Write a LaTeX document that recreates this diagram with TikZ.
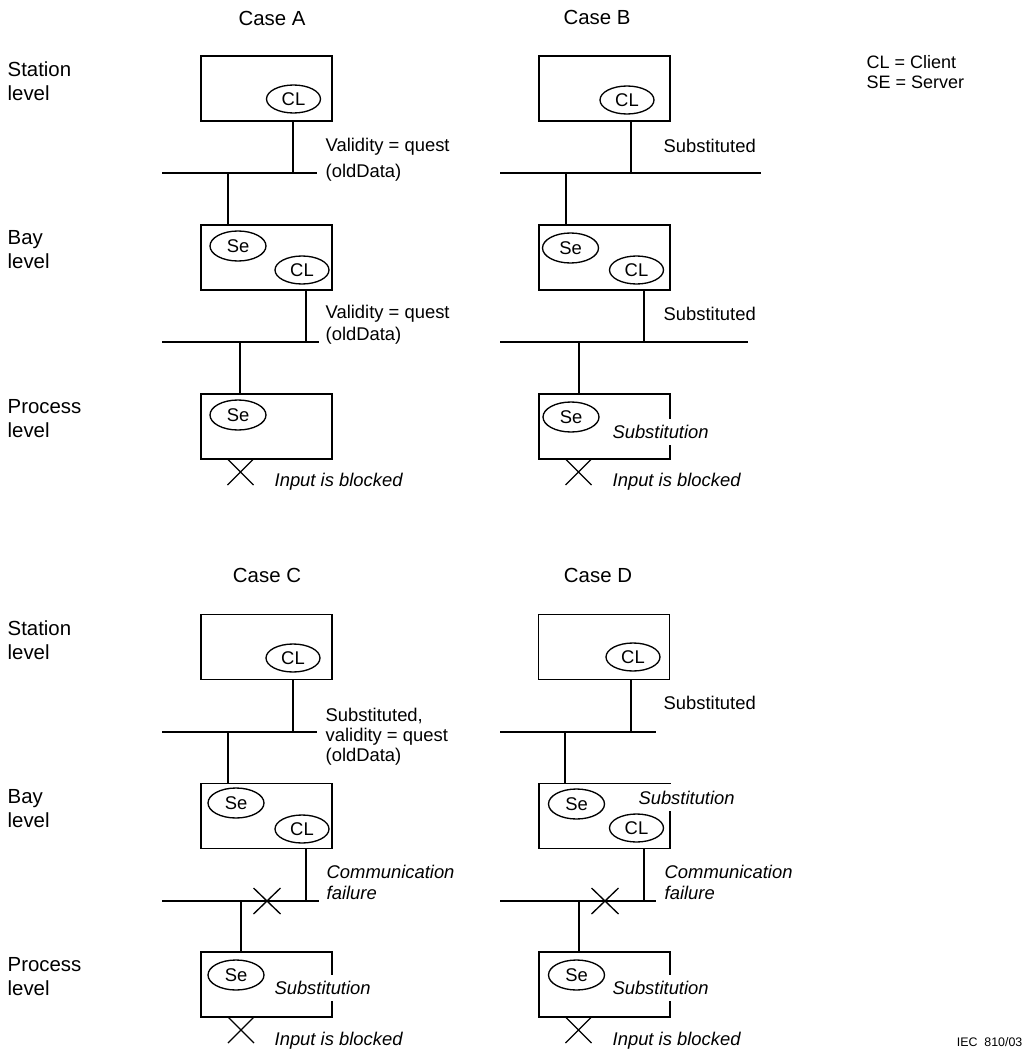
\documentclass[tikz,border=0pt]{standalone}
\usepackage{fontspec}
\setmainfont{Liberation Sans}
\usetikzlibrary{shapes.geometric}
\begin{document}
\begin{tikzpicture}[x=0.75pt,y=-0.75pt, line width=1pt,
  box/.style={draw, rectangle, inner sep=0pt, minimum width=98.25pt, minimum height=48.75pt},
  ell/.style={draw, ellipse, inner sep=0pt, font=\fontsize{13.8}{16}\selectfont},
  se/.style={ell, minimum width=42pt, minimum height=22.5pt},
  cl/.style={ell, minimum width=40.5pt, minimum height=21pt},
  lvl/.style={anchor=west, align=left, inner sep=0pt, font=\fontsize{15.3}{18}\selectfont},
  casetitle/.style={inner sep=0pt, font=\fontsize{15.3}{18}\selectfont},
  ann/.style={anchor=west, align=left, inner sep=0pt, font=\fontsize{13.8}{#1}\selectfont},
  ann/.default=15.75pt,
  annit/.style={anchor=west, align=left, inner sep=0pt, font=\fontsize{13.8}{15.75}\selectfont\itshape},
  subst/.style={anchor=west, fill=white, inner xsep=1pt, inner ysep=5pt, font=\fontsize{13.8}{16}\selectfont\itshape}
]
\useasboundingbox (0,0) rectangle (1035,1052);

% ---------- level labels ----------
\node[lvl] (lvA1) at (7,81) {Station\\level};
\node[lvl] (lvA2) at (7,250) {Bay\\level};
\node[lvl] (lvA3) at (7,418.5) {Process\\level};
\node[lvl] (lvC1) at (7,640) {Station\\level};
\node[lvl] (lvC2) at (7,808.5) {Bay\\level};
\node[lvl] (lvC3) at (7,976.5) {Process\\level};

% ---------- titles ----------
\node[casetitle] (tA) at (272,18) {Case A};
\node[casetitle] (tB) at (597,17) {Case B};
\node[casetitle] (tC) at (267,575) {Case C};
\node[casetitle] (tD) at (598,575) {Case D};

% ---------- legend ----------
\node[anchor=west, align=left, inner sep=0pt, font=\fontsize{13.5}{15}\selectfont] (legend) at (866,72) {CL = Client\\SE = Server};
\node[anchor=east, inner sep=0pt, font=\fontsize{9.3}{11}\selectfont] (iec) at (1023,1042) {IEC\ \ 810/03};

% ================= CASE A =================
\node[box] (As) at (266.5,88.5) {};
\node[cl] (AsCL) at (293.5,99) {CL};
\node[box] (Ab) at (266.5,257.5) {};
\node[se] (AbSe) at (238,246) {Se};
\node[cl] (AbCL) at (302,270) {CL};
\node[box] (Ap) at (266.5,426.5) {};
\node[se] (ApSe) at (238,415) {Se};
\coordinate (A1L) at (162,173); \coordinate (A1R) at (317,173);
\coordinate (A1s) at (293,173); \coordinate (A1b) at (228,173);
\coordinate (A2L) at (162,342); \coordinate (A2R) at (319,342);
\coordinate (A2b) at (306,342); \coordinate (A2p) at (240,342);
\draw (A1L) -- (A1R);
\draw (A2L) -- (A2R);
\draw (As.south -| A1s) -- (A1s);
\draw (A1b) -- (Ab.north -| A1b);
\draw (Ab.south -| A2b) -- (A2b);
\draw (A2p) -- (Ap.north -| A2p);
\coordinate (AX) at (240.5,472);
\draw (AX) +(-13,-13) -- +(13,13) (AX) +(-13,13) -- +(13,-13);
\node[ann=19.5pt] (Aa1) at (325,160) {Validity = quest\\(oldData)};
\node[ann=16.5pt] (Aa2) at (325,324.5) {Validity = quest\\(oldData)};
\node[annit] (Aa3) at (274,482) {Input is blocked};

% ================= CASE B =================
\node[box] (Bs) at (604.5,88.5) {};
\node[cl] (BsCL) at (627,100) {CL};
\node[box] (Bb) at (604.5,257.5) {};
\node[se] (BbSe) at (570.5,248) {Se};
\node[cl] (BbCL) at (636.5,270) {CL};
\node[box] (Bp) at (604.5,426.5) {};
\node[se] (BpSe) at (571,417) {Se};
\coordinate (B1L) at (500,173); \coordinate (B1R) at (761,173);
\coordinate (B1s) at (631,173); \coordinate (B1b) at (566,173);
\coordinate (B2L) at (500,342); \coordinate (B2R) at (748,342);
\coordinate (B2b) at (644,342); \coordinate (B2p) at (579,342);
\draw (B1L) -- (B1R);
\draw (B2L) -- (B2R);
\draw (Bs.south -| B1s) -- (B1s);
\draw (B1b) -- (Bb.north -| B1b);
\draw (Bb.south -| B2b) -- (B2b);
\draw (B2p) -- (Bp.north -| B2p);
\coordinate (BX) at (578.5,472);
\draw (BX) +(-13,-13) -- +(13,13) (BX) +(-13,13) -- +(13,-13);
\node[ann] (Ba1) at (663,146) {Substituted};
\node[ann] (Ba2) at (663,314) {Substituted};
\node[subst] (Ba3) at (610.5,432) {Substitution};
\node[annit] (Ba4) at (612,482) {Input is blocked};

% ================= CASE C =================
\node[box] (Cs) at (266.5,647) {};
\node[cl] (CsCL) at (293,658) {CL};
\node[box] (Cb) at (266.5,816) {};
\node[se] (CbSe) at (236,803) {Se};
\node[cl] (CbCL) at (302,829) {CL};
\node[box] (Cp) at (266.5,984.5) {};
\node[se] (CpSe) at (236,975) {Se};
\coordinate (C1L) at (162,732); \coordinate (C1R) at (317,732);
\coordinate (C1s) at (293,732); \coordinate (C1b) at (228,732);
\coordinate (C2L) at (162,901); \coordinate (C2R) at (319,901);
\coordinate (C2b) at (306,901); \coordinate (C2p) at (241,901);
\draw (C1L) -- (C1R);
\draw (C2L) -- (C2R);
\draw (Cs.south -| C1s) -- (C1s);
\draw (C1b) -- (Cb.north -| C1b);
\draw (Cb.south -| C2b) -- (C2b);
\draw (C2p) -- (Cp.north -| C2p);
\coordinate (CXbus) at (267,901);
\draw (CXbus) +(-13.5,-13) -- +(13.5,13) (CXbus) +(-13.5,13) -- +(13.5,-13);
\coordinate (CX) at (241,1030);
\draw (CX) +(-13,-13) -- +(13,13) (CX) +(-13,13) -- +(13,-13);
\node[ann=15pt] (Ca1) at (325,737) {Substituted,\\validity = quest\\(oldData)};
\node[annit] (Ca2) at (326,882.5) {Communication\\failure};
\node[subst] (Ca3) at (272.5,988) {Substitution};
\node[annit] (Ca4) at (274,1040.5) {Input is blocked};

% ================= CASE D =================
\node[box] (Ds) at (604,647) {};
\node[cl] (DsCL) at (633,657) {CL};
\node[box] (Db) at (604.5,816) {};
\node[se] (DbSe) at (576.5,804) {Se};
\node[cl] (DbCL) at (636.5,828) {CL};
\node[box] (Dp) at (604.5,984.5) {};
\node[se] (DpSe) at (576.5,975) {Se};
\coordinate (D1L) at (500,732); \coordinate (D1R) at (656,732);
\coordinate (D1s) at (631,732); \coordinate (D1b) at (565,732);
\coordinate (D2L) at (500,901); \coordinate (D2R) at (656,901);
\coordinate (D2b) at (644,901); \coordinate (D2p) at (579,901);
\draw (D1L) -- (D1R);
\draw (D2L) -- (D2R);
\draw (Ds.south -| D1s) -- (D1s);
\draw (D1b) -- (Db.north -| D1b);
\draw (Db.south -| D2b) -- (D2b);
\draw (D2p) -- (Dp.north -| D2p);
\coordinate (DXbus) at (605,901);
\draw (DXbus) +(-13.5,-13) -- +(13.5,13) (DXbus) +(-13.5,13) -- +(13.5,-13);
\coordinate (DX) at (578.5,1030);
\draw (DX) +(-13,-13) -- +(13,13) (DX) +(-13,13) -- +(13,-13);
\node[ann] (Da1) at (663,703) {Substituted};
\node[subst] (Da2) at (636.5,797.5) {Substitution};
\node[annit] (Da3) at (664,882.5) {Communication\\failure};
\node[subst] (Da4) at (610.5,988) {Substitution};
\node[annit] (Da5) at (612,1040.5) {Input is blocked};
\end{tikzpicture}
\end{document}
